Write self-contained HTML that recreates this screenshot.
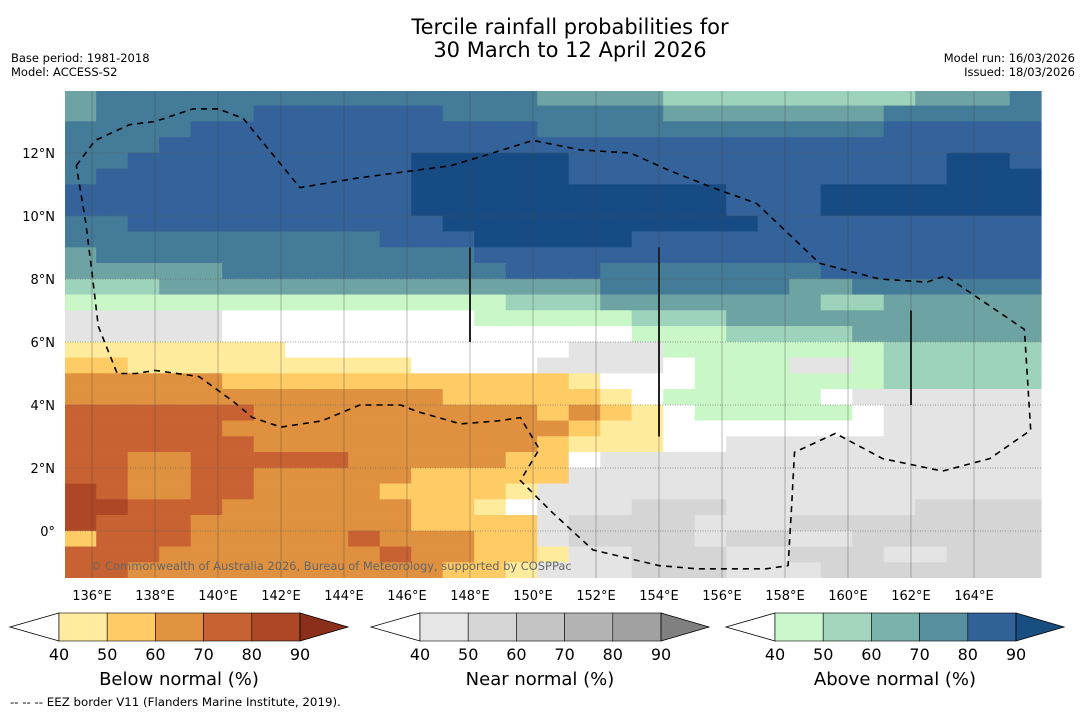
<!DOCTYPE html>
<html><head><meta charset="utf-8">
<style>
html,body{margin:0;padding:0;background:#fff;}
body{width:1085px;height:713px;overflow:hidden;font-family:"DejaVu Sans","Liberation Sans",sans-serif;}
svg text{font-family:"DejaVu Sans","Liberation Sans",sans-serif;}
</style></head>
<body>
<svg id="chart" width="1085" height="713" viewBox="0 0 1085 713" xmlns="http://www.w3.org/2000/svg">
  <text x="570" y="34" font-size="21" text-anchor="middle" fill="#000">Tercile rainfall probabilities for</text>
  <text x="570" y="57" font-size="21" text-anchor="middle" fill="#000">30 March to 12 April 2026</text>
  <text x="11" y="62" font-size="11.5">Base period: 1981-2018</text>
  <text x="11" y="76" font-size="11.5">Model: ACCESS-S2</text>
  <text x="1075" y="62" font-size="11.5" text-anchor="end">Model run: 16/03/2026</text>
  <text x="1075" y="76" font-size="11.5" text-anchor="end">Issued: 18/03/2026</text>
  <g id="map"></g>
  <g id="axes"></g>
  <g id="bars"></g>
  <text x="10" y="706" font-size="11.8">--  --  -- EEZ border V11 (Flanders Marine Institute, 2019).</text>
</svg>
<script>
const NS="http://www.w3.org/2000/svg";
// grid rows: 0.5° latitude from 14°N down to -1.5°, 1° longitude from 135.14°E
const gridRows=[
"cddddddddddddddccccbbbbbbbbcccd",
"cdddddeeeeeedddddddcccccccddddd",
"ddddeeeeeeeeeeedddddddddddeeeee",
"dddeeeeeeeeeeeeeeeeeeeeeeeeeeee",
"ddeeeeeeeeefffffeeeeeeeeeeeeffe",
"deeeeeeeeeefffffeeeeeeeeeeeefff",
"eeeeeeeeeeeffffffffffeeefffffff",
"eeeeeeeeeeeffffffffffeeefffffff",
"ddeeeeeeeeeeffffffffffeeeeeeeee",
"ddddddddddeeefffffeeeeeeeeeeeee",
"cddddddddddddeeeeeeeeeeeeeeeeee",
"cccccdddddddddeeedddddddeeeeeeee".slice(0,31),
"bbbccccccccccccccddddddccdddddd",
"aaaaaaaaaaaaaabbbcccccccbbccccc",
"nnnnnwwwwwwwwaaaaabbbcccccccccc",
"nnnnnwwwwwwwwwwwwwaaabbbbcccccc",
"yyyyyyywwwwwwwwwnnnaaaaaaabbbbb",
"ooyyyyyyyyywwwwnnnnwaaannabbbbb",
"pppppoooooooooooywwwaaaaaabbbbb",
"ppppppppppppoooooywaaaaawnnnnn",
"rrrrrrpppppppppopoywaaaaawnnnnn",
"rrrrrpppppppppppoyywwwwwwwnnnnn",
"rrrrrrpppppppppoyyywwnnnnnnnnnn",
"rrpprrrrrpppppoownnnnnnnnnnnnnn",
"rrpprrpppppooooonnnnnnnnnnnnnnn",
"srpprrppppooooynnnnnnnnnnnnnnnn",
"ssrrrppppppooywnnnmmmnnnnnnmmmmm".slice(0,31),
"srrrpppppppoooonmmmmnnnmmmmmmmm",
"orrrppppprpppoonmmmmnmmnnmmmmmm",
"rrrppppppprppooynnmmmnnmmmnnmmmm".slice(0,31),
"rrppppppppppooynnnmmmnnnmmmmmmm"
];
const categoryCodes=["a","b","c","d","e","f","w","n","m","y","o","p","r","s","t"];
const categoryColors=["#c9f7c8","#9dd3bb","#6ea3a3","#437b98","#33639a","#174b84","#ffffff","#e4e4e4","#d5d5d5","#ffeb9c","#fecb65","#e0913f","#c96232","#ad4726","#8b2f1a"];
const lonTicks=[136,138,140,142,144,146,148,150,152,154,156,158,160,162,164];
const latTicks=[12,10,8,6,4,2,0];
const levels=[40,50,60,70,80,90];
const belowColors=["#ffec9e","#fecb66","#e0923f","#c96232","#ad4726","#8b2f1a"];
const nearColors=["#e6e6e6","#d6d6d6","#c4c4c4","#b3b3b3","#a1a1a1","#808080"];
const aboveColors=["#ccf7cc","#a3d6bd","#7ab3ac","#5990a0","#306298","#184f80"];
const eezLonLat=[[135.5,11.6],[136.1,12.4],[137.2,12.9],[138.0,13.0],[139.2,13.4],[140.0,13.4],[140.8,13.1],[142.6,10.9],[144.4,11.2],[147.4,11.6],[148.4,11.9],[150.0,12.4],[151.5,12.1],[153.1,12.0],[154.2,11.5],[155.7,10.9],[157.1,10.4],[159.1,8.5],[161.0,8.0],[162.5,7.9],[163.1,8.1],[165.6,6.4],[165.8,3.2],[164.5,2.3],[163.0,1.9],[161.1,2.3],[159.6,3.1],[158.3,2.5],[158.2,0.6],[158.1,-1.1],[157.4,-1.2],[155.2,-1.2],[154.0,-1.1],[151.9,-0.6],[150.6,0.6],[149.6,1.6],[150.2,2.6],[149.6,3.6],[148.9,3.5],[147.7,3.4],[146.3,3.8],[145.8,4.0],[144.5,4.0],[143.3,3.5],[142.0,3.3],[141.1,3.6],[140.5,4.1],[139.4,4.9],[138.0,5.1],[137.4,5.0],[136.8,5.0],[136.2,6.5],[136.0,8.2],[135.8,9.8],[135.5,11.6]];
const x0=65,x1=1042,y0=91,y1=578;
const lonX=l=>92+(l-136)*31.5;
const latY=l=>531-l*31.5;
function mk(tag,attrs,parent){const e=document.createElementNS(NS,tag);for(const k in attrs)e.setAttribute(k,attrs[k]);parent.appendChild(e);return e;}
const map=document.getElementById('map');
const clip=mk('clipPath',{id:'mc'},map);mk('rect',{x:x0,y:y0,width:x1-x0,height:y1-y0},clip);
const cells=mk('g',{'clip-path':'url(#mc)'},map);


gridRows.forEach((row,j)=>{
  const latTop=14-j*0.5;
  for(let i=0;i<31;i++){
    const ch=row[i]||'n';
    const lonL=135.14+i;
    const r=mk('rect',{x:lonX(lonL)-0.2,y:latY(latTop)-0.2,width:31.9,height:16.1,fill:categoryColors[categoryCodes.indexOf(ch)]},cells);
    
    
  }
});
const ax=document.getElementById('axes');
lonTicks.forEach(l=>{
  const x=lonX(l);
  const g=mk('line',{x1:x,x2:x,y1:y0,y2:y1,stroke:'#444','stroke-width':0.8,'stroke-opacity':0.45},ax);
  
  
  const t=mk('text',{x:x,y:600,'font-size':13,'text-anchor':'middle'},ax);t.textContent=l+'°E';
  
  
});
latTicks.forEach(l=>{
  const y=latY(l);
  const g=mk('line',{x1:x0,x2:x1,y1:y,y2:y,stroke:'#555','stroke-width':0.8,'stroke-dasharray':'1,1.5','stroke-opacity':0.7},ax);
  
  
  const t=mk('text',{x:55,y:y+5,'font-size':13,'text-anchor':'end'},ax);t.textContent=l===0?'0°':l+'°N';
  
  
});
[[148,9,6],[154,9,3],[162,7,4]].forEach(s=>{
  const l=mk('line',{x1:lonX(s[0]),x2:lonX(s[0]),y1:latY(s[1]),y2:latY(s[2]),stroke:'#222','stroke-width':2},ax);
  
  
});
const eez=mk('polyline',{points:eezLonLat.map(p=>lonX(p[0]).toFixed(1)+','+latY(p[1]).toFixed(1)).join(' '),fill:'none',stroke:'#000','stroke-width':1.6,'stroke-dasharray':'6,5','clip-path':'url(#mc)'},ax);


const cp=mk('text',{x:90,y:570,'font-size':11.45,fill:'#666'},ax);
cp.textContent='© Commonwealth of Australia 2026, Bureau of Meteorology, supported by COSPPac';


const bars=document.getElementById('bars');
function colorbar(left,colors,label,name){
  const w=241/5,top=613,h=28;
  const g=mk('g',{},bars);
  
  
  mk('polygon',{points:`${left},${top} ${left-49},${top+h/2} ${left},${top+h}`,fill:'#fff',stroke:'#000','stroke-width':0.8},g);
  for(let k=0;k<5;k++){
    const r=mk('rect',{x:left+k*w,y:top,width:w,height:h,fill:colors[k],stroke:'#000','stroke-width':0.6},g);
    
    
  }
  const right=left+241;
  mk('polygon',{points:`${right},${top} ${right+48},${top+h/2} ${right},${top+h}`,fill:colors[5],stroke:'#000','stroke-width':0.8},g);
  levels.forEach((v,k)=>{
    const t=mk('text',{x:left+k*w,y:660,'font-size':16,'text-anchor':'middle'},g);t.textContent=v;
    
    
  });
  const t=mk('text',{x:left+120,y:685,'font-size':18,'text-anchor':'middle'},g);t.textContent=label;
  
  
}
colorbar(59,belowColors,'Below normal (%)','below-normal-colorbar');
colorbar(420,nearColors,'Near normal (%)','near-normal-colorbar');
colorbar(775,aboveColors,'Above normal (%)','above-normal-colorbar');
</script>
</body></html>
